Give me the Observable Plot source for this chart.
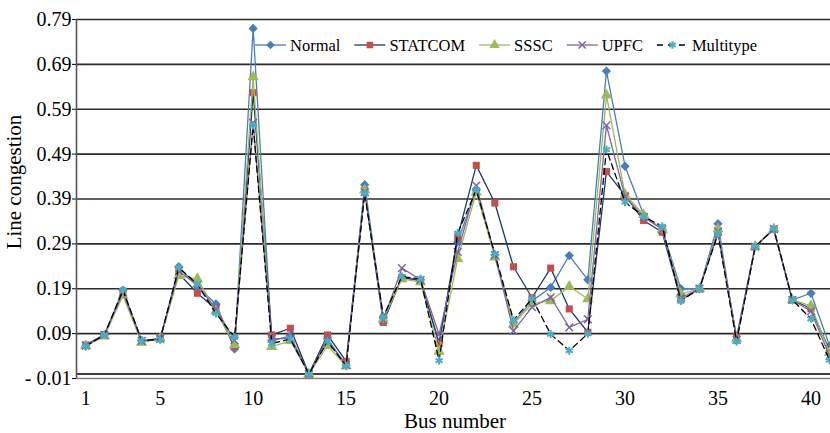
<!DOCTYPE html>
<html><head><meta charset="utf-8">
<script src="https://cdn.jsdelivr.net/npm/d3@7"></script>
<script src="https://cdn.jsdelivr.net/npm/@observablehq/plot@0.6"></script>
<style>
html,body{margin:0;padding:0;background:#fff;overflow:hidden;}
#chart{width:830px;height:433px;overflow:hidden;}
#chart svg, #chart svg text{font-family:"Liberation Serif","DejaVu Serif",serif !important;}
</style></head><body><div id="chart"></div>
<script>
const buses = [1,2,3,4,5,6,7,8,9,10,11,12,13,14,15,16,17,18,19,20,21,22,23,24,25,26,27,28,29,30,31,32,33,34,35,36,37,38,39,40,41];
const normal    = [0.062,0.087,0.187,0.075,0.077,0.239,0.195,0.156,0.056,0.770,0.074,0.085,0.000,0.078,0.020,0.422,0.125,0.215,0.210,0.070,0.295,0.410,0.265,0.115,0.163,0.193,0.264,0.210,0.675,0.463,0.355,0.322,0.190,0.190,0.335,0.075,0.284,0.323,0.165,0.180,0.063];
const statcom   = [0.065,0.088,0.180,0.072,0.080,0.224,0.180,0.145,0.061,0.627,0.087,0.102,0.000,0.087,0.028,0.409,0.115,0.215,0.208,0.068,0.306,0.465,0.381,0.239,0.170,0.236,0.145,0.093,0.451,0.398,0.342,0.316,0.165,0.190,0.316,0.083,0.284,0.323,0.165,0.146,0.053];
const sssc      = [0.063,0.084,0.175,0.070,0.079,0.219,0.212,0.140,0.065,0.662,0.061,0.074,0.000,0.063,0.018,0.410,0.122,0.212,0.205,0.050,0.257,0.405,0.260,0.111,0.157,0.163,0.195,0.167,0.621,0.400,0.355,0.322,0.178,0.190,0.323,0.078,0.284,0.323,0.165,0.152,0.048];
const upfc      = [0.063,0.087,0.182,0.074,0.078,0.230,0.198,0.145,0.075,0.560,0.078,0.080,0.000,0.075,0.020,0.405,0.120,0.236,0.210,0.088,0.272,0.420,0.265,0.096,0.149,0.171,0.104,0.122,0.554,0.395,0.350,0.322,0.170,0.190,0.318,0.076,0.284,0.323,0.165,0.140,0.040];
const multitype = [0.062,0.087,0.187,0.075,0.077,0.237,0.200,0.135,0.082,0.554,0.068,0.078,0.000,0.073,0.018,0.403,0.128,0.217,0.212,0.030,0.314,0.410,0.268,0.120,0.168,0.089,0.052,0.090,0.500,0.383,0.351,0.329,0.163,0.190,0.312,0.072,0.284,0.323,0.165,0.123,0.031];

const seriesNames = ["Normal","STATCOM","SSSC","UPFC","Multitype"];
const yTicks = [-0.01,0.09,0.19,0.29,0.39,0.49,0.59,0.69,0.79];
const yTickLabels = ["- 0.01","0.09","0.19","0.29","0.39","0.49","0.59","0.69","0.79"];
const xTicks = [1,5,10,15,20,25,30,35,40];
const xTitle = "Bus number";
const yTitle = "Line congestion";
const FONT = '"Liberation Serif","DejaVu Serif",serif';

const styles = [
  {values: normal,    line:"#4A7EBB", dash:null, symbol:"diamond2", fill:"#4A7EBB", stroke:"none",    sw:0,   r:4.2},
  {values: statcom,   line:"#1F3864", dash:null, symbol:"square",   fill:"#C0504D", stroke:"none",    sw:0,   r:4.0},
  {values: sssc,      line:"#9BBB59", dash:null, symbol:"triangle", fill:"#9BBB59", stroke:"none",    sw:0,   r:4.2},
  {values: upfc,      line:"#8064A2", dash:null, symbol:"times",    fill:"none",    stroke:"#8064A2", sw:1.5, r:3.6},
  {values: multitype, line:"#000000", dash:"6,4", symbol:"asterisk", fill:"none",   stroke:"#4BACC6", sw:2,   r:3.8}
];

const marks = [
  Plot.ruleY(yTicks.filter(v => v > 0), {stroke:"#2b2b2b", strokeWidth:1.6}),
  Plot.ruleY([0], {stroke:"#000", strokeWidth:1.5}),
  Plot.ruleY([yTicks[0]], {stroke:"#808080", strokeWidth:1.6}),
  Plot.ruleX([0.5], {y1: yTicks[0], y2: yTicks[yTicks.length-1], stroke:"#555", strokeWidth:1.6})
];
styles.forEach((s, k) => {
  const data = buses.map((b, i) => ({bus: b, value: s.values[i], series: seriesNames[k]}));
  marks.push(Plot.line(data, {x:"bus", y:"value", stroke: s.line, strokeWidth: 1.3, strokeDasharray: s.dash}));
  marks.push(Plot.dot(data, {x:"bus", y:"value", symbol: s.symbol, fill: s.fill, stroke: s.stroke, strokeWidth: s.sw, r: s.r}));
});

const chart = Plot.plot({
  width: 830, height: 433,
  marginLeft: 76, marginRight: 0, marginTop: 19, marginBottom: 55,
  style: {fontSize: "20px", color: "#000", background: "#fff"},
  x: {type: "linear", domain: [0.5, 41.05], ticks: xTicks, tickSize: 0, tickPadding: 12, label: null, tickFormat: d => String(d)},
  y: {domain: [-0.01, 0.79], ticks: yTicks, tickSize: 4, tickPadding: 1, label: null,
      tickFormat: d => yTickLabels[yTicks.findIndex(t => Math.abs(t - d) < 1e-9)]},
  marks
});
document.getElementById("chart").appendChild(chart);

const svg = d3.select(chart);
svg.attr("font-family", FONT).style("font-family", FONT);
// axis titles
svg.append("text").attr("x", 455).attr("y", 428).attr("text-anchor", "middle")
  .attr("font-size", 21).attr("fill", "#000").text(xTitle);
svg.append("text").attr("transform", "translate(21,182) rotate(-90)").attr("text-anchor", "middle")
  .attr("font-size", 21).attr("fill", "#000").text(yTitle);

// legend
const lg = svg.append("g").attr("font-size", 16.5).attr("text-anchor", "start");
let lx = 255; const ly = 45;
styles.forEach((s, k) => {
  const g = lg.append("g");
  g.append("line").attr("x1", lx).attr("x2", lx + 31).attr("y1", ly).attr("y2", ly)
    .attr("stroke", s.line).attr("stroke-width", 1.3).attr("stroke-dasharray", s.dash ? "6,5" : null);
  const sym = {diamond2: d3.symbolDiamond2, square: d3.symbolSquare, triangle: d3.symbolTriangle, times: d3.symbolTimes, asterisk: d3.symbolAsterisk}[s.symbol];
  g.append("path").attr("transform", `translate(${lx + 15.5},${ly})`)
    .attr("d", d3.symbol(sym, s.r * s.r * Math.PI * 0.85)())
    .attr("fill", s.fill).attr("stroke", s.stroke).attr("stroke-width", s.sw);
  const t = g.append("text").attr("x", lx + 35).attr("y", ly + 5.5).attr("fill", "#000")
    .attr("text-anchor", "start").text(seriesNames[k]);
  lx = lx + 35 + t.node().getComputedTextLength() + 14;
});
svg.selectAll("text").attr("font-family", FONT);
</script></body></html>
